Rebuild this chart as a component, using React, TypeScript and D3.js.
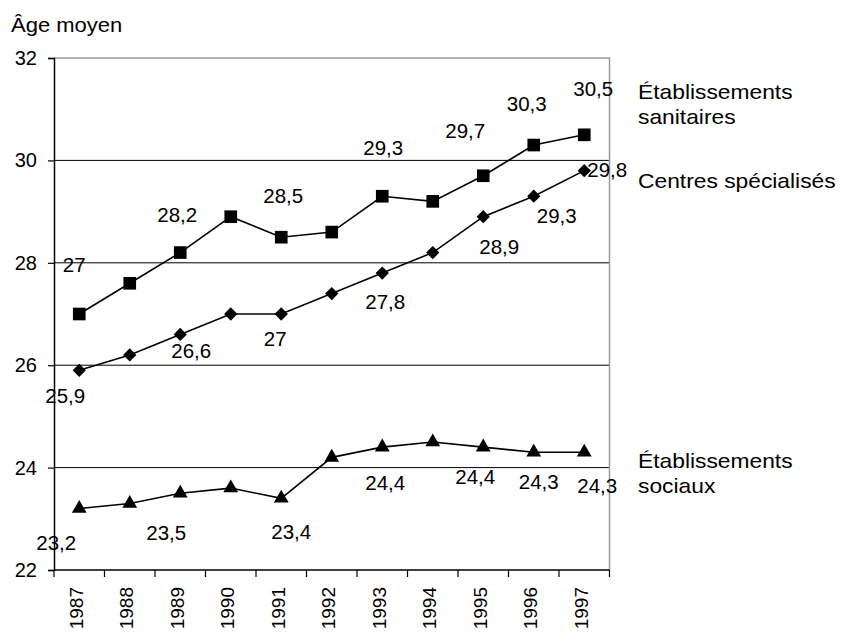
import React, { useEffect, useRef } from 'react';
import * as d3 from 'd3';

// Années
const years = ['1987', '1988', '1989', '1990', '1991', '1992', '1993', '1994', '1995', '1996', '1997'];

// Âge moyen par type d'établissement
const sanitaires = [27, 27.6, 28.2, 28.9, 28.5, 28.6, 29.3, 29.2, 29.7, 30.3, 30.5];
const specialises = [25.9, 26.2, 26.6, 27, 27, 27.4, 27.8, 28.2, 28.9, 29.3, 29.8];
const sociaux = [23.2, 23.3, 23.5, 23.6, 23.4, 24.2, 24.4, 24.5, 24.4, 24.3, 24.3];

const yTicks = [22, 24, 26, 28, 30, 32];
const labelledIdx = [0, 2, 4, 6, 8, 9, 10];

// label offsets (px) from the marker, same order as labelledIdx
const sanOffsets = [[-5, -49], [-3, -38], [2, -41], [1, -48], [-18, -45], [-7, -41], [9, -46]];
const specOffsets = [[-14, 26], [11, 16], [-6, 25], [3, 29], [16, 30], [23, 20], [23, -1]];
const socOffsets = [[-23, 34], [-14, 40], [10, 34], [3, 36], [-8, 30], [5, 30], [13, 34]];

const FONT = '"Liberation Sans", Arial, sans-serif';

const App: React.FC = () => {
  const svgRef = useRef<SVGSVGElement>(null);

  useEffect(() => {
    if (!svgRef.current) return;
    const svg = d3.select(svgRef.current);
    svg.selectAll('*').remove();

    const left = 54, right = 609.5, top = 58, bottom = 570;

    const x = d3.scaleBand().domain(years).range([left, right]).padding(0);
    const y = d3.scaleLinear().domain([22, 32]).range([bottom, top]);
    const cx = (i: number) => (x(years[i]) || 0) + x.bandwidth() / 2;

    // Grid lines
    svg.append('g')
      .selectAll('line')
      .data(yTicks.filter(t => t > 22 && t < 32))
      .join('line')
      .attr('x1', left).attr('x2', right)
      .attr('y1', d => y(d)).attr('y2', d => y(d))
      .attr('stroke', '#000').attr('stroke-width', 1);

    // Plot border (top / right in gray)
    svg.append('path')
      .attr('d', `M${left},${y(32)}H${right}V${bottom}`)
      .attr('fill', 'none').attr('stroke', '#999').attr('stroke-width', 1.5);

    // Y axis
    const yAxis = svg.append('g')
      .attr('transform', `translate(${left},0)`)
      .call(d3.axisLeft(y).tickValues(yTicks).tickSize(6).tickPadding(11).tickFormat(d => String(d)));
    yAxis.select('.domain').attr('stroke', '#000').attr('stroke-width', 1.5);
    yAxis.selectAll('.tick line').attr('stroke', '#000').attr('stroke-width', 1.2);
    yAxis.selectAll('.tick text')
      .attr('font-size', 20).attr('font-family', FONT).attr('fill', '#000');

    // X axis (ticks at band boundaries)
    const xg = svg.append('g');
    xg.append('line')
      .attr('x1', left).attr('x2', right)
      .attr('y1', bottom).attr('y2', bottom)
      .attr('stroke', '#000').attr('stroke-width', 1.5);
    xg.selectAll('line.tick')
      .data(d3.range(years.length + 1))
      .join('line')
      .attr('class', 'tick')
      .attr('x1', i => left + i * x.step()).attr('x2', i => left + i * x.step())
      .attr('y1', bottom).attr('y2', bottom + 7)
      .attr('stroke', '#000').attr('stroke-width', 1.2);
    xg.selectAll('text')
      .data(years)
      .join('text')
      .attr('transform', (d, i) => `translate(${cx(i) - 3},${bottom + 17}) rotate(-90)`)
      .attr('text-anchor', 'end')
      .attr('dy', '0.35em')
      .attr('font-size', 19)
      .attr('font-family', FONT)
      .text(d => d);

    // Title (reference glyphs are a bit wider than Arial)
    svg.append('text')
      .attr('transform', 'translate(11,32) scale(1.1,1)')
      .attr('font-size', 20).attr('font-family', FONT)
      .text('Âge moyen');

    const line = d3.line<number>().x((d, i) => cx(i)).y(d => y(d));

    const series = [
      { values: sanitaires, shape: d3.symbolSquare, size: 160, rot: 0, offsets: sanOffsets },
      { values: specialises, shape: d3.symbolSquare, size: 88, rot: 45, offsets: specOffsets },
      { values: sociaux, shape: d3.symbolTriangle, size: 95, rot: 0, offsets: socOffsets }
    ];

    series.forEach(s => {
      svg.append('path')
        .datum(s.values)
        .attr('d', line)
        .attr('fill', 'none')
        .attr('stroke', '#000')
        .attr('stroke-width', 1.6);

      svg.append('g')
        .selectAll('path')
        .data(s.values)
        .join('path')
        .attr('transform', (d, i) => `translate(${cx(i)},${y(d)}) rotate(${s.rot})`)
        .attr('d', d3.symbol().type(s.shape).size(s.size)())
        .attr('fill', '#000');

      svg.append('g')
        .selectAll('text')
        .data(labelledIdx)
        .join('text')
        .attr('x', (idx, k) => cx(idx) + s.offsets[k][0])
        .attr('y', (idx, k) => y(s.values[idx]) + s.offsets[k][1])
        .attr('dy', '0.35em')
        .attr('text-anchor', 'middle')
        .attr('font-size', 20.5)
        .attr('font-family', FONT)
        .text(idx => String(s.values[idx]).replace('.', ','));
    });

    // Series names on the right
    const legend = [
      { lines: ['Établissements', 'sanitaires'], y: 99 },
      { lines: ['Centres spécialisés'], y: 188 },
      { lines: ['Établissements', 'sociaux'], y: 468 }
    ];
    legend.forEach(l => {
      const t = svg.append('text')
        .attr('transform', `translate(638,${l.y}) scale(1.14,1)`)
        .attr('font-size', 20).attr('font-family', FONT);
      l.lines.forEach((ln, i) => {
        t.append('tspan').attr('x', 0).attr('dy', i === 0 ? 0 : 25).text(ln);
      });
    });
  }, []);

  return (
    <svg
      ref={svgRef}
      width={841}
      height={635}
      style={{ position: 'absolute', left: 0, top: 0, background: '#fff', display: 'block' }}
    />
  );
};

export default App;
